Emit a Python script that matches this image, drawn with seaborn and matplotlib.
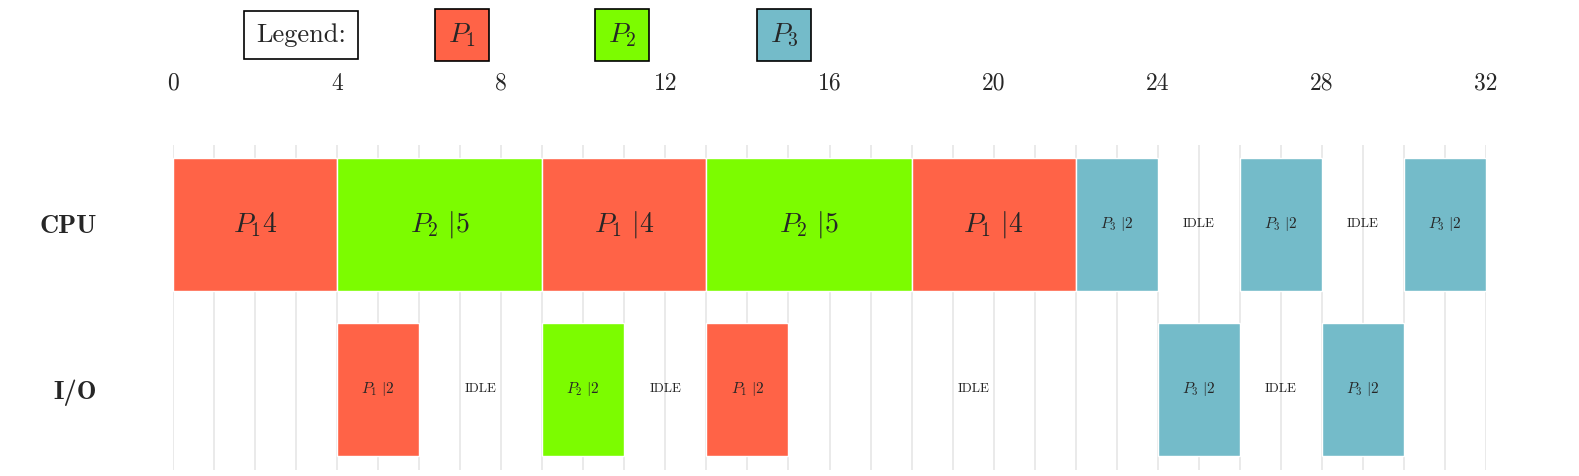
import matplotlib.pyplot as plt
import seaborn as sns

sns.set_style("white")
plt.rcParams['font.family'] = ['cmr10', 'DejaVu Serif']
plt.rcParams['mathtext.fontset'] = 'cm'
plt.rcParams['axes.formatter.use_mathtext'] = True

colors = {'P1': '#FF6347', 'P2': '#7CFC00', 'P3': '#74BBC9'}
rows = ['CPU', 'I/O']

# (process, start, length) ; None = idle
cpu_tasks = [('P1', 0, 4), ('P2', 4, 5), ('P1', 9, 4), ('P2', 13, 5), ('P1', 18, 4),
             ('P3', 22, 2), (None, 24, 2), ('P3', 26, 2), (None, 28, 2), ('P3', 30, 2)]
io_tasks = [('P1', 4, 2), (None, 6, 3), ('P2', 9, 2), (None, 11, 2), ('P1', 13, 2),
            (None, 15, 9), ('P3', 24, 2), (None, 26, 2), ('P3', 28, 2)]
ticks = list(range(0, 33, 4))

fig = plt.figure(figsize=(15.79, 4.76), dpi=100)
ax = fig.add_axes([173/1579, 6/476, (1486-173)/1579, 325/476])

for i in range(33):
    ax.axvline(i, color='#e6e6e6', lw=1.2, zorder=0)

for row, tasks in enumerate([cpu_tasks, io_tasks]):
    for k, (p, s, d) in enumerate(tasks):
        if p is None:
            ax.text(s + d/2, row, 'IDLE', ha='center', va='center', fontsize=9.5)
            continue
        ax.barh(row, d, left=s, height=0.806, color=colors[p], zorder=2)
        n = p[1]
        if row == 0 and k == 0:
            lab, fs = r'$P_%s4$' % n, 20
        elif d >= 4:
            lab, fs = r'$P_%s\ |%d$' % (n, d), 20
        else:
            lab, fs = r'$P_%s\ |%d$' % (n, d), 11
        ax.text(s + d/2, row, lab, ha='center', va='center', fontsize=fs, zorder=3)

ax.set_xlim(0, 32)
ax.set_ylim(1.49, -0.48)
ax.xaxis.tick_top()
ax.set_xticks(ticks)
ax.set_xticklabels([str(t) for t in ticks], fontsize=17)
ax.tick_params(axis='x', length=0, pad=36)
ax.set_yticks([0, 1])
ax.set_yticklabels(rows, fontsize=19, fontfamily='cmb10')
ax.tick_params(axis='y', length=0, pad=55)
sns.despine(ax=ax, left=True, bottom=True, top=True, right=True)

# legend row
fig.text(301/1579, 1-35/476, 'Legend:', ha='center', va='center', fontsize=19,
         bbox=dict(boxstyle='square,pad=0.45', fc='white', ec='black', lw=1.2))
for p, x in [('P1', 462), ('P2', 622), ('P3', 784)]:
    fig.text(x/1579, 1-35/476, r'$P_%s$' % p[1], ha='center', va='center', fontsize=20,
             bbox=dict(boxstyle='square,pad=0.45', fc=colors[p], ec='black', lw=1.2))

fig.savefig('out.png', dpi=100)
